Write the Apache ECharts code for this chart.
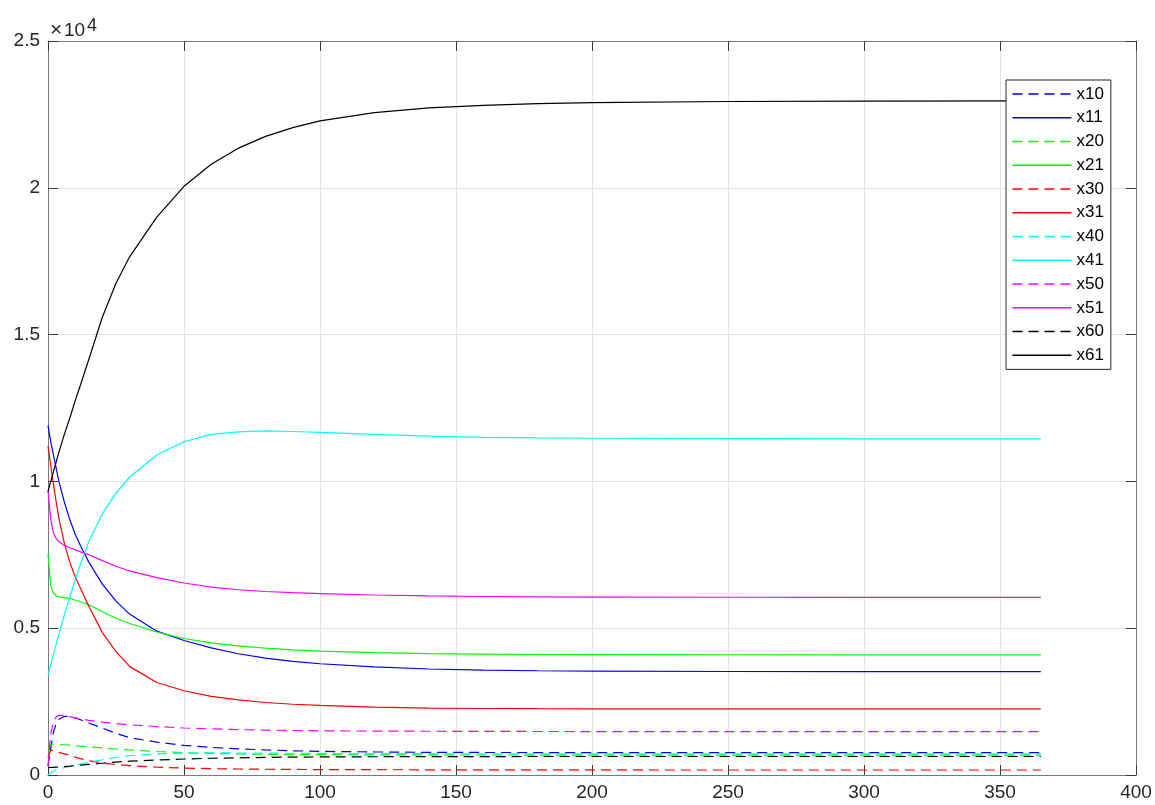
<!DOCTYPE html>
<html>
<head>
<meta charset="utf-8">
<script src="https://cdn.jsdelivr.net/npm/echarts@6/dist/echarts.min.js"></script>
<style>
html,body{margin:0;padding:0;background:#fff;}
#chart{width:1155px;height:805px;}
</style>
</head>
<body>
<div id="chart"></div>
<script>
// time (days)
var t = [0,1,2,3,4,6,8,10,12,15,20,25,30,40,50,60,70,80,90,100,120,140,160,180,200,250,300,365];

var x10 = [300,900,1450,1750,1900,2000,1990,1940,1880,1770,1600,1420,1270,1120,1010,940,890,855,825,805,785,772,767,765,765,765,765,765];
var x11 = [11900,11350,10900,10450,10000,9300,8700,8200,7800,7250,6500,5920,5480,4900,4580,4330,4130,3980,3870,3790,3680,3610,3570,3550,3540,3525,3520,3520];
var x20 = [850,1050,1050,1045,1040,1030,1015,1000,985,960,920,885,855,800,760,735,718,705,697,692,686,683,681,680,680,680,680,680];
var x21 = [7550,6450,6200,6100,6070,6040,6010,5960,5900,5800,5560,5340,5160,4870,4650,4500,4400,4320,4260,4220,4165,4135,4115,4105,4100,4095,4090,4090];
var x30 = [600,850,830,800,770,720,670,610,555,485,410,355,320,265,235,215,205,195,190,185,180,177,175,173,172,170,170,170];
var x31 = [11200,10550,9900,9300,8750,7900,7250,6750,6350,5750,4850,4200,3700,3150,2870,2680,2560,2470,2410,2370,2310,2280,2265,2258,2255,2250,2250,2250];
var x40 = [0,70,130,170,200,250,290,330,370,430,520,600,660,720,745,752,750,745,740,735,730,725,722,720,720,720,720,720];
var x41 = [3400,3750,4100,4450,4800,5450,6050,6650,7200,7950,8900,9600,10150,10900,11350,11600,11690,11720,11700,11670,11600,11540,11500,11480,11470,11460,11450,11450];
var x50 = [300,1400,1820,1980,2030,2030,1990,1950,1910,1860,1800,1750,1710,1650,1600,1570,1545,1530,1515,1505,1495,1490,1485,1482,1480,1480,1480,1480];
var x51 = [9700,8700,8250,8050,7950,7820,7740,7670,7600,7500,7300,7110,6950,6720,6540,6400,6310,6250,6210,6180,6130,6100,6080,6068,6060,6055,6050,6050];
var x60 = [250,255,260,265,270,285,300,320,335,360,400,440,470,510,545,570,585,600,610,615,622,626,628,630,630,630,630,630];
var x61 = [9650,10000,10330,10660,10990,11600,12150,12750,13300,14150,15600,16750,17650,19000,20050,20800,21350,21750,22050,22280,22560,22720,22810,22870,22900,22940,22955,22960];

var xTicks = {min:0, max:400, interval:50};
var yTicks = {min:0, max:25000, interval:5000};

var seriesDefs = [
  ['x10', x10, '#0000ff', 'dashed'],
  ['x11', x11, '#0000ff', 'solid'],
  ['x20', x20, '#00ff00', 'dashed'],
  ['x21', x21, '#00ff00', 'solid'],
  ['x30', x30, '#ff0000', 'dashed'],
  ['x31', x31, '#ff0000', 'solid'],
  ['x40', x40, '#00ffff', 'dashed'],
  ['x41', x41, '#00ffff', 'solid'],
  ['x50', x50, '#ff00ff', 'dashed'],
  ['x51', x51, '#ff00ff', 'solid'],
  ['x60', x60, '#000000', 'dashed'],
  ['x61', x61, '#000000', 'solid']
];

var FONT = '"Liberation Sans", Arial, Helvetica, sans-serif';

var series = seriesDefs.map(function(d){
  return {
    name: d[0],
    type: 'line',
    xAxisIndex: 0,
    yAxisIndex: 0,
    data: t.map(function(tv, i){ return [tv, d[1][i]]; }),
    symbol: 'none',
    smooth: false,
    color: d[2],
    lineStyle: {color: d[2], width: 1.2, type: d[3] === 'dashed' ? [10,6] : 'solid'},
    itemStyle: {color: d[2]},
    emphasis: {disabled: true},
    silent: true
  };
});

function baseAxis(ticks, pos, showLabel, showSplit, fmt){
  return {
    type: 'value',
    position: pos,
    min: ticks.min, max: ticks.max, interval: ticks.interval,
    axisLine: {show: true, onZero: false, lineStyle: {color: '#7a7a7a', width: 1}},
    axisTick: {show: true, inside: true, length: 10, lineStyle: {color: '#3a3a3a', width: 1}},
    axisLabel: {show: showLabel, color: '#262626', fontSize: 19, fontFamily: FONT, margin: 8,
                formatter: fmt},
    splitLine: {show: showSplit, lineStyle: {color: '#e3e3e3', width: 1}}
  };
}

var chart = echarts.init(document.getElementById('chart'), null, {renderer: 'canvas'});
chart.setOption({
  animation: false,
  backgroundColor: '#ffffff',
  grid: {left: 48, right: 19, top: 41, bottom: 30, containLabel: false},
  xAxis: [
    baseAxis(xTicks, 'bottom', true, true, function(v){ return String(v); }),
    baseAxis(xTicks, 'top', false, false)
  ],
  yAxis: [
    baseAxis(yTicks, 'left', true, true, function(v){ return String(v/10000); }),
    baseAxis(yTicks, 'right', false, false)
  ],
  legend: {
    orient: 'vertical',
    left: 1006, top: 80,
    padding: [4, 7, 4, 5.7],
    itemWidth: 59, itemHeight: 14, itemGap: 3.76,
    borderColor: '#262626', borderWidth: 1, backgroundColor: '#ffffff',
    itemStyle: {opacity: 0, borderWidth: 0},
    lineStyle: {width: 1.5},
    textStyle: {fontSize: 17, lineHeight: 20, color: '#000000', fontFamily: FONT},
    data: seriesDefs.map(function(d){ return d[0]; }),
    selectedMode: false
  },
  graphic: [
    {type: 'text', x: 50, y: 30, style: {text: '\u00d7', fontSize: 21, fontFamily: FONT, fill: '#262626', verticalAlign: 'middle'}},
    {type: 'text', x: 64, y: 21, style: {text: '10', fontSize: 19, fontFamily: FONT, fill: '#262626', verticalAlign: 'top'}},
    {type: 'text', x: 87, y: 17, style: {text: '4', fontSize: 18, fontFamily: FONT, fill: '#262626', verticalAlign: 'top'}}
  ],
  series: series
});
</script>
</body>
</html>
